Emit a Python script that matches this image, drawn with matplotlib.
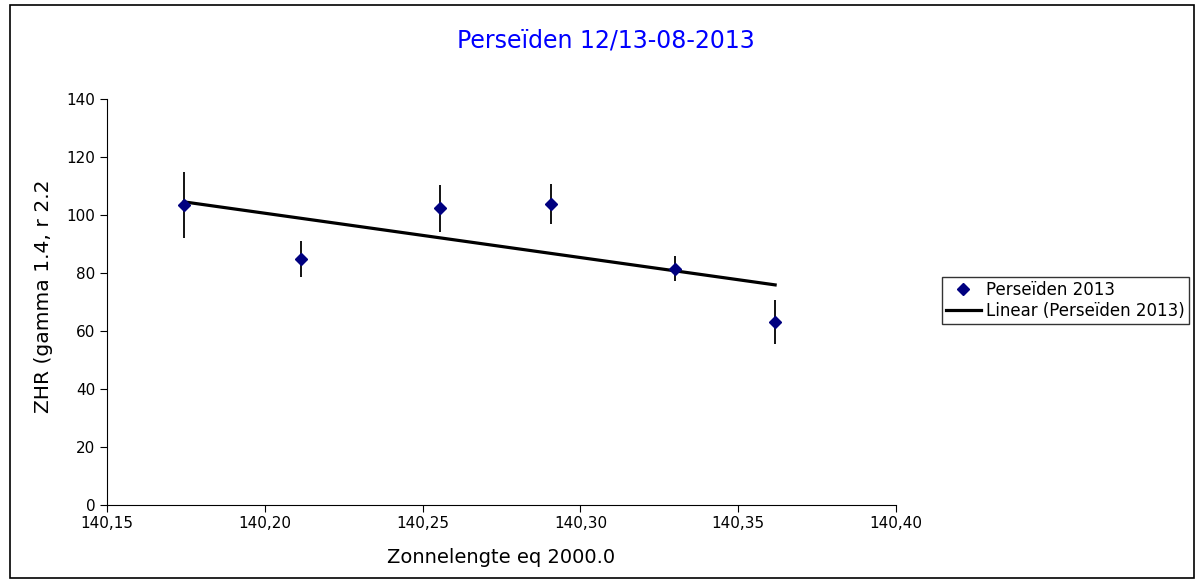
import numpy as np
from matplotlib import pyplot as plt
from matplotlib.ticker import FuncFormatter, MultipleLocator
from matplotlib.transforms import Bbox

# zonnelengte (eq 2000.0) and ZHR per interval
solar_long = [140.1744, 140.2115, 140.2555, 140.2907, 140.3300, 140.3617]
zhr = [103.4, 84.8, 102.4, 103.8, 81.4, 63.1]
zhr_err = [11.5, 6.2, 8.1, 6.9, 4.3, 7.5]

W, H = 1196, 583
fig = plt.figure(figsize=(W / 100, H / 100), dpi=100)
ax = fig.add_axes([107 / W, 1 - 505 / H, (896 - 107) / W, (505 - 99) / H])

ax.errorbar(solar_long, zhr, yerr=zhr_err, fmt='none', ecolor='black', elinewidth=1.3, capsize=0)
ax.plot(solar_long, zhr, linestyle='none', marker='D', markersize=6.5, color='#000080',
        label='Perseïden 2013', zorder=3)

# linear trend, like Excel's trendline
coef = np.polyfit(solar_long, zhr, 1)
xs = np.array([solar_long[0], solar_long[-1]])
ax.plot(xs, np.polyval(coef, xs), color='black', linewidth=2.3, label='Linear (Perseïden 2013)')

ax.set_xlim(140.15, 140.40)
ax.set_ylim(0, 140)
ax.xaxis.set_major_locator(MultipleLocator(0.05))
ax.yaxis.set_major_locator(MultipleLocator(20))
ax.xaxis.set_major_formatter(FuncFormatter(lambda v, p: f"{v:.2f}".replace('.', ',')))
for s in ['top', 'right']:
    ax.spines[s].set_visible(False)
ax.tick_params(direction='out', length=5, labelsize=11)
ax.tick_params(axis='x', pad=3)

ax.set_xlabel('Zonnelengte eq 2000.0', fontsize=14)
ax.xaxis.set_label_coords(0.5, -0.107)
ylab = ax.set_ylabel('ZHR (gamma 1.4, r 2.2)', fontsize=14.6)
ax.yaxis.set_label_coords(-0.069, 0.523)
# the original chart cuts the axis title off at the top
ylab.set_clip_box(Bbox.from_extents(0, 0, W, H - 181))
ylab.set_clip_on(True)

fig.text(606 / W, 1 - 40 / H, 'Perseïden 12/13-08-2013', color='#0000ff', fontsize=17,
         ha='center', va='center')

leg = ax.legend(loc='center left', bbox_to_anchor=(1.058, 0.504), fontsize=12, frameon=True,
                fancybox=False, edgecolor='black', borderpad=0.25, handlelength=2.1,
                handletextpad=0.3, labelspacing=0.2, borderaxespad=0)
leg.get_frame().set_linewidth(1.0)

# outer chart frame
fig.patches.append(plt.Rectangle((10 / W, 5 / H), 1184 / W, 573 / H, transform=fig.transFigure,
                                 fill=False, edgecolor='black', linewidth=1.2))

fig.savefig('out.png', dpi=100)
